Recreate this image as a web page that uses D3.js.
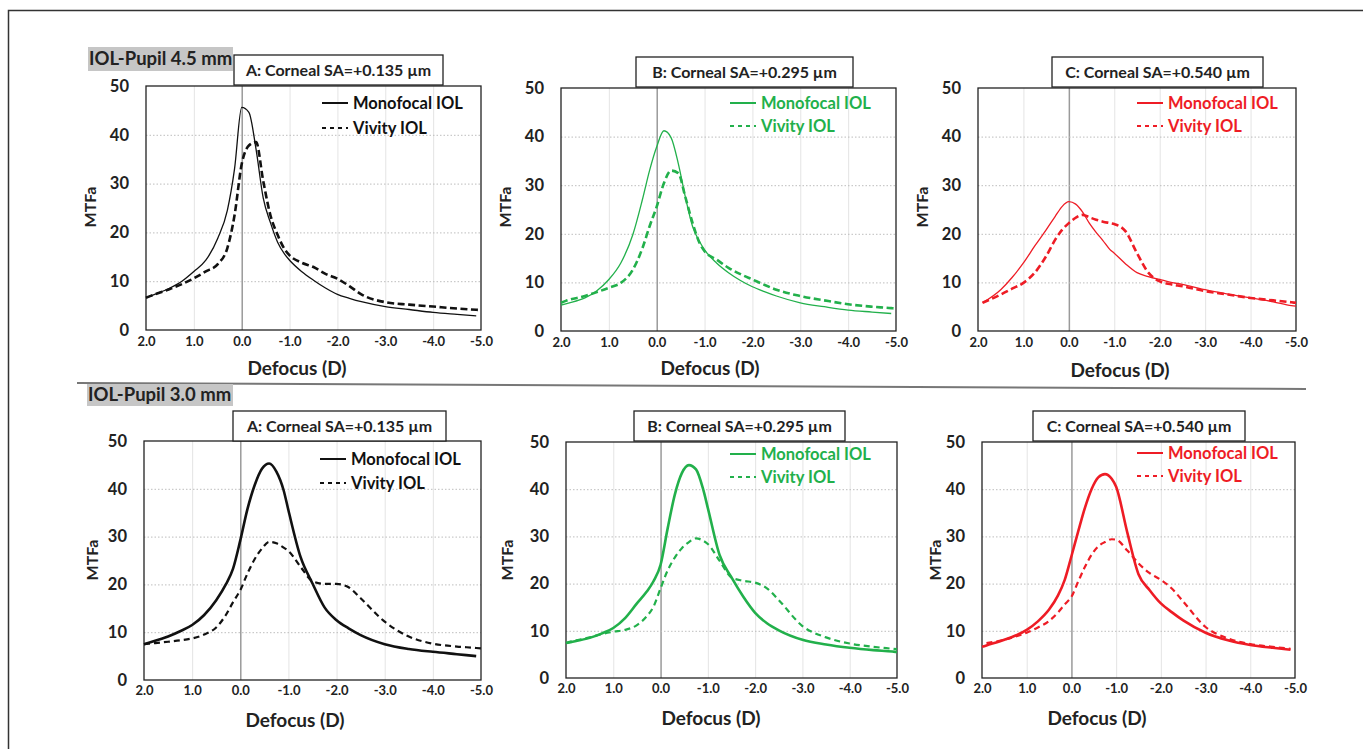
<!DOCTYPE html>
<html lang="en">
<head>
<meta charset="UTF-8">
<title>MTFa vs Defocus</title>
<style>
  body { margin: 0; background: #fff; }
  svg { display: block; font-family: Lato, "Open Sans", sans-serif; font-weight: 700; }
</style>
</head>
<body>
<div id="graph"></div>
<script src="https://cdn.jsdelivr.net/npm/d3@7"></script>
<script>
// defocus grid (D) shared by every series, null = curve not drawn there
var defocus = [2.0, 1.9, 1.5, 1.25, 1.0, 0.75, 0.5, 0.3, 0.15, 0.0, -0.15, -0.3, -0.45, -0.6, -0.75, -0.9, -1.0,
               -1.25, -1.5, -1.75, -2.0, -2.25, -2.5, -3.0, -3.5, -4.0, -4.5, -4.9, -5.0];

// IOL pupil 4.5 mm
var mono45A = [6.6, 7.0, 8.6, 10.0, 12.0, 14.3, 18.8, 24.5, 33.0, 45.6, 44.6, 37.0, 27.0, 22.0, 18.0, 15.5, 14.3,
               12.0, 10.2, 8.6, 7.3, 6.5, 5.8, 4.8, 4.2, 3.6, 3.2, 2.9, null];
var viv45A  = [6.6, 7.0, 8.4, 9.4, 10.6, 12.0, 13.5, 16.8, 23.5, 34.0, 37.8, 38.5, 30.5, 23.5, 19.5, 16.5, 15.3,
               13.8, 12.9, 11.5, 10.5, 9.0, 7.3, 5.7, 5.2, 4.8, 4.4, 4.15, 4.1];
var mono45B = [5.3, 5.6, 6.8, 8.3, 10.6, 14.0, 19.8, 27.0, 33.0, 37.9, 41.2, 39.8, 34.5, 27.5, 21.5, 18.3, 16.7,
               14.0, 12.0, 10.4, 9.1, 8.1, 7.2, 5.8, 5.0, 4.3, 3.9, 3.6, null];
var viv45B  = [5.8, 6.2, 7.2, 8.0, 8.9, 9.9, 12.6, 17.0, 21.5, 25.6, 30.4, 33.0, 32.5, 27.5, 22.2, 18.0, 16.4,
               14.7, 13.0, 11.7, 10.6, 9.5, 8.5, 7.2, 6.3, 5.5, 5.0, 4.7, 4.6];
var mono45C = [null, 5.8, 8.5, 11.0, 14.0, 17.5, 20.8, 23.6, 25.6, 26.6, 26.1, 24.5, 22.2, 20.3, 18.6, 16.8, 16.0,
               13.8, 12.0, 11.2, 10.6, 10.0, 9.6, 8.5, 7.6, 6.8, 6.0, 5.2, 5.1];
var viv45C  = [null, 5.8, 7.5, 8.7, 9.9, 12.0, 15.4, 18.8, 20.8, 22.2, 23.3, 23.9, 23.4, 22.9, 22.5, 22.2, 22.0,
               20.5, 16.0, 12.0, 10.2, 9.6, 9.2, 8.2, 7.5, 6.8, 6.3, 5.9, 5.8];

// IOL pupil 3.0 mm
var mono30A = [7.5, 7.8, 9.1, 10.2, 11.5, 13.6, 16.7, 20.0, 23.3, 29.2, 35.8, 40.8, 44.2, 45.3, 43.6, 39.7, 35.5,
               25.8, 20.2, 15.2, 12.5, 10.8, 9.4, 7.5, 6.5, 5.9, 5.4, 5.0, null];
var viv30A  = [7.5, 7.6, 8.0, 8.3, 8.7, 9.5, 11.0, 13.6, 16.3, 18.8, 22.3, 25.3, 27.5, 28.9, 28.6, 27.7, 27.0,
               23.7, 20.7, 20.1, 20.1, 19.4, 17.1, 12.2, 9.1, 7.6, 7.0, 6.7, 6.6];
var mono30B = [7.4, 7.6, 8.5, 9.4, 10.6, 12.7, 15.8, 18.2, 20.5, 24.0, 31.7, 38.8, 43.4, 45.1, 44.2, 40.0, 36.0,
               26.0, 21.3, 17.2, 13.8, 11.6, 10.1, 8.1, 7.1, 6.4, 5.9, 5.6, 5.5];
var viv30B  = [7.4, 7.7, 8.6, 9.3, 9.8, 10.2, 11.2, 13.0, 15.1, 19.0, 22.8, 25.5, 27.5, 28.8, 29.6, 29.1, 28.4,
               24.8, 21.3, 20.6, 20.2, 19.0, 16.5, 11.0, 8.6, 7.3, 6.6, 6.2, 6.1];
var mono30C = [6.6, 6.9, 8.1, 9.0, 10.2, 12.0, 14.5, 17.5, 20.8, 25.8, 31.0, 36.0, 40.0, 42.5, 43.2, 42.2, 40.5,
               30.8, 22.0, 18.6, 15.8, 13.9, 12.2, 9.6, 8.0, 7.0, 6.4, 6.0, null];
var viv30C  = [null, 7.4, 8.1, 8.8, 9.6, 10.7, 12.1, 13.9, 15.6, 17.2, 20.4, 23.5, 26.1, 27.9, 28.8, 29.4, 29.3,
               27.0, 24.3, 22.2, 20.8, 18.9, 16.2, 10.8, 8.4, 7.2, 6.6, 6.2, null];

var xTicks = [2, 1, 0, -1, -2, -3, -4, -5];
var yTicks = [0, 10, 20, 30, 40, 50];
var seriesNames = ["Monofocal IOL", "Vivity IOL"];
var pupilLabels = ["IOL-Pupil 4.5 mm", "IOL-Pupil 3.0 mm"];
var panelTitles = ["A: Corneal SA=+0.135 \u00b5m", "B: Corneal SA=+0.295 \u00b5m", "C: Corneal SA=+0.540 \u00b5m"];

var width = 1363, height = 749;
var svg = d3.select("#graph").append("svg").attr("width", width).attr("height", height);

// frame and row separator
svg.append("path").attr("d", "M8.5,749 V10.5 H1363").attr("fill", "none").attr("stroke", "#333").attr("stroke-width", 1.5);
svg.append("line").attr("x1", 77).attr("y1", 383).attr("x2", 1306).attr("y2", 389)
    .attr("stroke", "#777").attr("stroke-width", 2);

// pupil labels with grey background
[[88, 47, 145, 24, 59], [87, 384, 146, 22, 395]].forEach(function (p, i) {
    svg.append("rect").attr("x", p[0]).attr("y", p[1]).attr("width", p[2]).attr("height", p[3]).attr("fill", "#c6c6c6");
    svg.append("text").attr("x", p[0] + 1).attr("y", p[4]).attr("dy", "0.35em")
        .attr("font-size", 18.5).attr("fill", "#222").text(pupilLabels[i]);
});

var panels = [
    { box: [146, 86, 481, 330], title: [234, 55, 443], lx: 322, ly: 103, lgap: 25, dx: 297, dy: 368, mx: 90, row: 0,
      color: "#111", mono: mono45A, viv: viv45A, k: 0 },
    { box: [561, 88, 896, 331], title: [636, 57, 853], lx: 730, ly: 103, lgap: 23, dx: 710, dy: 368, mx: 505, row: 0,
      color: "#22b04b", mono: mono45B, viv: viv45B, k: 1 },
    { box: [978, 88, 1296, 331], title: [1052, 57, 1263], lx: 1137, ly: 103, lgap: 23, dx: 1120, dy: 370, mx: 922, row: 0,
      color: "#ee1c25", mono: mono45C, viv: viv45C, k: 2 },
    { box: [144, 441, 481, 680], title: [233, 411, 446], lx: 320, ly: 459, lgap: 24, dx: 295, dy: 720, mx: 92, row: 1,
      color: "#111", mono: mono30A, viv: viv30A, k: 0 },
    { box: [566, 442, 897, 678], title: [634, 411, 845], lx: 730, ly: 454, lgap: 23, dx: 711, dy: 718, mx: 507, row: 1,
      color: "#22b04b", mono: mono30B, viv: viv30B, k: 1 },
    { box: [982, 442, 1295, 678], title: [1033, 411, 1245], lx: 1137, ly: 453, lgap: 23, dx: 1097, dy: 718, mx: 935, row: 1,
      color: "#ee1c25", mono: mono30C, viv: viv30C, k: 2 }
];

panels.forEach(function (p) {
    var x0 = p.box[0], y0 = p.box[1], x1 = p.box[2], y1 = p.box[3];
    var x = d3.scaleLinear().domain([2, -5]).range([x0, x1]);
    var y = d3.scaleLinear().domain([0, 50]).range([y1, y0]);
    var g = svg.append("g");

    // vertical grid
    g.append("g").attr("transform", "translate(0," + y1 + ")")
        .call(d3.axisBottom(x).tickValues(xTicks.slice(1, -1)).tickSize(-(y1 - y0)).tickFormat(""))
        .call(function (a) {
            a.select(".domain").remove();
            a.selectAll("line").attr("stroke", function (d) { return d === 0 ? "#9a9a9a" : "#e4e4e4"; })
                .attr("stroke-width", function (d) { return d === 0 ? 1.5 : 1; });
        });
    // horizontal dotted grid
    g.append("g").attr("transform", "translate(" + x0 + ",0)")
        .call(d3.axisLeft(y).tickValues(yTicks.slice(1, -1)).tickSize(-(x1 - x0)).tickFormat(""))
        .call(function (a) {
            a.select(".domain").remove();
            a.selectAll("line").attr("stroke", "#bdbdbd").attr("stroke-dasharray", "1.5,2");
        });

    // axis labels
    g.append("g").attr("transform", "translate(" + x0 + ",0)")
        .call(d3.axisLeft(y).tickValues(yTicks).tickSize(0).tickPadding(17).tickFormat(d3.format("d")))
        .call(function (a) {
            a.select(".domain").remove();
            a.selectAll("text").attr("font-size", 16.5).attr("font-family", "Lato").attr("font-weight", 700).attr("fill", "#222");
        });
    g.append("g").attr("transform", "translate(0," + y1 + ")")
        .call(d3.axisBottom(x).tickValues(xTicks).tickSize(0).tickPadding(p.row ? 6 : 7)
            .tickFormat(function (d) { return d.toFixed(1); }))
        .call(function (a) {
            a.select(".domain").remove();
            a.selectAll("text").attr("font-size", 13).attr("font-family", "Lato").attr("font-weight", 700).attr("fill", "#222");
        });

    // plot border
    g.append("rect").attr("x", x0).attr("y", y0).attr("width", x1 - x0).attr("height", y1 - y0)
        .attr("fill", "none").attr("stroke", "#222").attr("stroke-width", 1.3);

    // curves
    var line = d3.line()
        .defined(function (d) { return d[1] !== null; })
        .x(function (d) { return x(d[0]); })
        .y(function (d) { return y(d[1]); })
        .curve(d3.curveMonotoneX);
    var monoW = p.row ? 2.6 : 1.3;
    var vivW = p.row ? 2.2 : 2.6;
    var vivDash = p.row ? "6,4" : "7,3.5";
    g.append("path").datum(d3.zip(defocus, p.mono)).attr("d", line)
        .attr("fill", "none").attr("stroke", p.color).attr("stroke-width", monoW);
    g.append("path").datum(d3.zip(defocus, p.viv)).attr("d", line)
        .attr("fill", "none").attr("stroke", p.color).attr("stroke-width", vivW).attr("stroke-dasharray", vivDash);

    // title box
    var t = p.title;
    g.append("rect").attr("x", t[0]).attr("y", t[1]).attr("width", t[2] - t[0]).attr("height", 30)
        .attr("fill", "#fff").attr("stroke", "#222").attr("stroke-width", 1.3);
    g.append("text").attr("x", (t[0] + t[2]) / 2).attr("y", t[1] + 15).attr("dy", "0.35em")
        .attr("text-anchor", "middle").attr("font-size", 16).attr("fill", "#222").text(panelTitles[p.k]);

    // legend
    [0, 1].forEach(function (i) {
        var ly = p.ly + i * p.lgap;
        g.append("line").attr("x1", p.lx).attr("x2", p.lx + 26).attr("y1", ly).attr("y2", ly)
            .attr("stroke", p.color).attr("stroke-width", 2)
            .attr("stroke-dasharray", i ? "4,4" : null);
        g.append("text").attr("x", p.lx + 31).attr("y", ly).attr("dy", "0.35em")
            .attr("font-size", 16.5).attr("fill", p.color).text(seriesNames[i]);
    });

    // axis titles
    g.append("text").attr("x", p.dx).attr("y", p.dy).attr("dy", "0.35em").attr("text-anchor", "middle")
        .attr("font-size", 19).attr("fill", "#222").text("Defocus (D)");
    g.append("text").attr("transform", "translate(" + p.mx + "," + (p.row ? 560 : 207) + ") rotate(-90)")
        .attr("dy", "0.35em").attr("text-anchor", "middle").attr("font-size", 16).attr("fill", "#222").text("MTFa");
});
</script>
</body>
</html>
